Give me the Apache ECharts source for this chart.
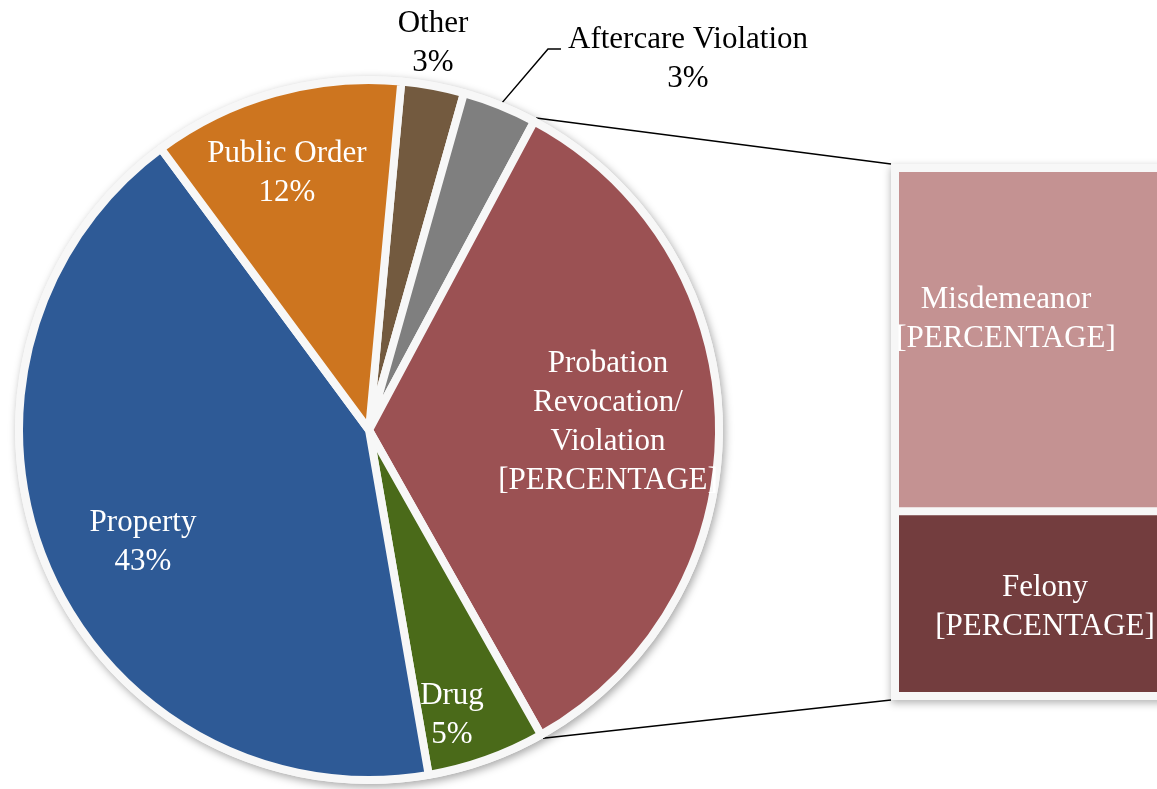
<!DOCTYPE html>
<html>
<head>
<meta charset="UTF-8">
<title>offense_pie</title>
<script src="https://cdn.jsdelivr.net/npm/echarts@6/dist/echarts.min.js"></script>
<style>
  html, body { margin: 0; padding: 0; background: #fff; }
  #main { width: 1157px; height: 789px; }
</style>
</head>
<body>
<div id="main"></div>
<script>
// pie slices, clockwise from just right of 12 o'clock
var categories = ['Other', 'Aftercare Violation', 'Probation Revocation/Violation', 'Drug', 'Property', 'Public Order'];
var shares = [2.9, 3.45, 34.0, 5.45, 42.6, 11.6];
var sliceColors = ['#735A3F', '#7F7F7F', '#9B5153', '#4A6A19', '#2E5A96', '#CD751F'];

// split of the probation slice (bar on the right)
var barCategories = ['Misdemeanor', 'Felony'];
var barShares = [22.1, 11.9];
var barColors = ['#C49292', '#733D3E'];

// layout
var pieCenter = [369, 430];
var pieRadius = 350;
var edge = 8;           // light border round slices and bars
var startAngle = 84.7;
var boxLeft = 891, boxTop = 164, boxWidth = 308, boxHeight = 536;   // outer light box
var inset = 4;          // bars sit inside the box, each with a thin inner border
var edgeColor = '#F7F7F7';
var font = 'Liberation Serif';
var fontSize = 31;

// where Excel put the labels (centre of the text block)
var labelAt = {
  'Other': [433, 43],
  'Aftercare Violation': [688, 59],
  'Probation Revocation/Violation': [608, 422],
  'Drug': [452, 715],
  'Property': [143, 542],
  'Public Order': [287, 173]
};

var probIdx = 2;
var total = shares.reduce(function (a, b) { return a + b; }, 0);

// clockwise angle from 12 o'clock where slice i starts
function sliceAngle(i) {
  var s = 0;
  for (var k = 0; k < i; k++) s += shares[k];
  return (90 - startAngle) + s / total * 360;
}
function piePoint(deg, r) {
  var a = deg * Math.PI / 180;
  return [pieCenter[0] + r * Math.sin(a), pieCenter[1] - r * Math.cos(a)];
}

var pieData = categories.map(function (c, i) {
  var outside = (c === 'Other' || c === 'Aftercare Violation');
  return {
    name: c,
    value: shares[i],
    itemStyle: { color: sliceColors[i] },
    label: { position: outside ? 'outside' : 'inside', color: outside ? '#000' : '#fff' },
    labelLine: { show: c === 'Aftercare Violation', length: 10, length2: 10, lineStyle: { color: '#000', width: 1.5 } }
  };
});

var barLabel = {
  show: true, position: 'inside',
  fontFamily: font, fontSize: fontSize, lineHeight: 39, color: '#fff', align: 'center',
  formatter: '{a}\n[PERCENTAGE]'
};

var myChart = echarts.init(document.getElementById('main'));
var option = {
  backgroundColor: '#fff',
  animation: false,
  grid: [
    { left: boxLeft + inset, top: boxTop + inset, width: boxWidth - 2 * inset, height: boxHeight - 2 * inset, outerBoundsMode: 'none' },
    { left: boxLeft, top: boxTop, width: boxWidth, height: boxHeight, outerBoundsMode: 'none' }
  ],
  xAxis: [
    { type: 'category', data: ['Probation'], show: false, gridIndex: 0 },
    { type: 'category', data: ['Probation'], show: false, gridIndex: 1 }
  ],
  yAxis: [
    { type: 'value', min: 0, max: shares[probIdx], inverse: true, show: false, gridIndex: 0 },
    { type: 'value', min: 0, max: shares[probIdx], inverse: true, show: false, gridIndex: 1 }
  ],
  series: [
    {
      // backing disc, gives the soft shadow
      type: 'pie',
      silent: true,
      z: 1,
      center: pieCenter,
      radius: pieRadius + edge / 2,
      data: [{ value: 1, itemStyle: { color: edgeColor } }],
      label: { show: false },
      labelLine: { show: false },
      itemStyle: { shadowBlur: 8, shadowOffsetX: 2, shadowOffsetY: 3, shadowColor: 'rgba(0,0,0,0.35)' }
    },
    {
      type: 'pie',
      z: 2,
      center: pieCenter,
      radius: pieRadius,
      startAngle: startAngle,
      clockwise: true,
      percentPrecision: 0,
      avoidLabelOverlap: false,
      data: pieData,
      itemStyle: { borderColor: edgeColor, borderWidth: edge },
      label: {
        show: true,
        fontFamily: font,
        fontSize: fontSize,
        lineHeight: 39,
        align: 'center',
        formatter: function (p) {
          if (p.dataIndex === probIdx) {
            return 'Probation\nRevocation/\nViolation\n[PERCENTAGE]';
          }
          return p.name + '\n' + p.percent + '%';
        }
      },
      labelLayout: function (p) {
        var name = categories[p.dataIndex];
        var pos = labelAt[name];
        var out = { x: pos[0], y: pos[1], align: 'center', verticalAlign: 'middle' };
        if (name === 'Aftercare Violation') {
          var mid = (sliceAngle(p.dataIndex) + sliceAngle(p.dataIndex + 1)) / 2;
          var start = piePoint(mid, pieRadius);
          out.labelLinePoints = [start, [pos[0] - 140, pos[1] - 10], [pos[0] - 127, pos[1] - 10]];
        }
        return out;
      }
    },
    {
      // light box behind the two bars, carries the shadow
      type: 'bar',
      xAxisIndex: 1,
      yAxisIndex: 1,
      silent: true,
      z: 1,
      barWidth: '100%',
      data: [shares[probIdx]],
      itemStyle: {
        color: edgeColor,
        shadowBlur: 8, shadowOffsetY: 3, shadowColor: 'rgba(0,0,0,0.3)'
      }
    },
    {
      name: barCategories[0],
      type: 'bar',
      stack: 'prob',
      z: 2,
      barWidth: '100%',
      data: [barShares[0]],
      itemStyle: { color: barColors[0], borderColor: edgeColor, borderWidth: inset },
      label: Object.assign({}, barLabel, { offset: [-39, -20] })
    },
    {
      name: barCategories[1],
      type: 'bar',
      stack: 'prob',
      z: 2,
      barWidth: '100%',
      data: [barShares[1]],
      itemStyle: { color: barColors[1], borderColor: edgeColor, borderWidth: inset },
      label: Object.assign({}, barLabel, { offset: [0, 4] })
    }
  ]
};
myChart.setOption(option);

// connector lines from the probation slice to the box corners
var topY = myChart.convertToPixel({ yAxisIndex: 1 }, 0);
var botY = myChart.convertToPixel({ yAxisIndex: 1 }, shares[probIdx]);
var pTop = piePoint(sliceAngle(probIdx), pieRadius + edge / 2);
var pBot = piePoint(sliceAngle(probIdx + 1), pieRadius + edge / 2);
myChart.setOption({
  graphic: [
    { type: 'line', z: 0, shape: { x1: pTop[0], y1: pTop[1], x2: boxLeft, y2: topY }, style: { stroke: '#000', lineWidth: 1.5 } },
    { type: 'line', z: 0, shape: { x1: pBot[0], y1: pBot[1], x2: boxLeft, y2: botY }, style: { stroke: '#000', lineWidth: 1.5 } }
  ]
});
</script>
</body>
</html>
